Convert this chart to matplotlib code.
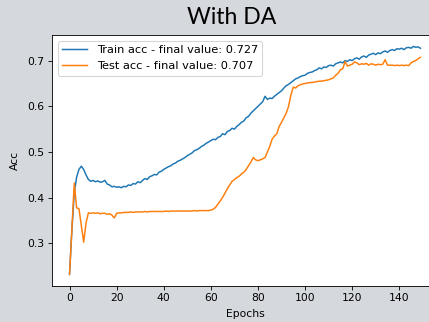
import matplotlib
matplotlib.use("Agg")
import matplotlib.pyplot as plt
import numpy as np

epochs = list(range(150))

train_acc = [
    0.234, 0.330, 0.410, 0.445, 0.462, 0.469, 0.462, 0.450, 0.440, 0.436,
    0.438, 0.435, 0.437, 0.434, 0.435, 0.438, 0.430, 0.428, 0.424, 0.425,
    0.423, 0.424, 0.422, 0.425, 0.424, 0.428, 0.427, 0.431, 0.430, 0.435,
    0.433, 0.438, 0.442, 0.440, 0.446, 0.448, 0.451, 0.450, 0.456, 0.458,
    0.462, 0.465, 0.468, 0.470, 0.474, 0.476, 0.480, 0.482, 0.485, 0.488,
    0.492, 0.495, 0.498, 0.503, 0.505, 0.508, 0.512, 0.515, 0.519, 0.522,
    0.525, 0.528, 0.527, 0.532, 0.534, 0.540, 0.538, 0.545, 0.547, 0.552,
    0.550, 0.556, 0.560, 0.565, 0.568, 0.575, 0.578, 0.585, 0.590, 0.595,
    0.600, 0.605, 0.610, 0.622, 0.615, 0.618, 0.617, 0.622, 0.626, 0.630,
    0.634, 0.640, 0.645, 0.648, 0.652, 0.656, 0.660, 0.662, 0.665, 0.667,
    0.668, 0.672, 0.674, 0.675, 0.678, 0.680, 0.684, 0.682, 0.686, 0.685,
    0.689, 0.690, 0.688, 0.693, 0.695, 0.697, 0.695, 0.700, 0.698, 0.702,
    0.700, 0.704, 0.706, 0.703, 0.708, 0.710, 0.707, 0.712, 0.714, 0.716,
    0.713, 0.717, 0.715, 0.719, 0.721, 0.718, 0.722, 0.724, 0.722, 0.726,
    0.725, 0.727, 0.724, 0.728, 0.729, 0.727, 0.731, 0.729, 0.730, 0.727,
]

test_acc = [
    0.232, 0.330, 0.432, 0.378, 0.376, 0.340, 0.303, 0.345, 0.367, 0.366,
    0.367, 0.366, 0.367, 0.365, 0.366, 0.366, 0.364, 0.365, 0.362, 0.356,
    0.366, 0.367, 0.367, 0.368, 0.368, 0.368, 0.369, 0.368, 0.369, 0.369,
    0.369, 0.369, 0.370, 0.369, 0.370, 0.370, 0.370, 0.370, 0.370, 0.370,
    0.370, 0.371, 0.370, 0.371, 0.371, 0.371, 0.371, 0.371, 0.371, 0.371,
    0.371, 0.371, 0.371, 0.372, 0.371, 0.372, 0.372, 0.372, 0.372, 0.372,
    0.373, 0.375, 0.379, 0.386, 0.393, 0.401, 0.410, 0.420, 0.428, 0.436,
    0.440, 0.444, 0.447, 0.452, 0.456, 0.462, 0.470, 0.478, 0.488, 0.483,
    0.481, 0.483, 0.485, 0.488, 0.500, 0.512, 0.528, 0.535, 0.540, 0.556,
    0.565, 0.575, 0.585, 0.600, 0.625, 0.642, 0.640, 0.645, 0.647, 0.649,
    0.650, 0.651, 0.652, 0.652, 0.653, 0.654, 0.655, 0.655, 0.656, 0.657,
    0.658, 0.660, 0.662, 0.668, 0.672, 0.680, 0.682, 0.698, 0.688, 0.690,
    0.692, 0.697, 0.695, 0.691, 0.693, 0.692, 0.694, 0.690, 0.693, 0.692,
    0.690, 0.692, 0.691, 0.692, 0.702, 0.690, 0.690, 0.690, 0.689, 0.690,
    0.689, 0.690, 0.689, 0.690, 0.689, 0.695, 0.698, 0.700, 0.704, 0.707,
]

DPI = 77
bg = "#d5d8dc"
fig = plt.figure(figsize=(429 / DPI, 322 / DPI), dpi=DPI, facecolor=bg)
ax = fig.add_axes([52 / 429, 36 / 322, (438 - 52) / 429, (286 - 35) / 322])
ax.set_facecolor("white")

ax.plot(epochs, train_acc, color="#1f77b4", lw=1.4,
        label=f"Train acc - final value: {train_acc[-1]:.3f}")
ax.plot(epochs, test_acc, color="#ff7f0e", lw=1.4,
        label=f"Test acc - final value: {test_acc[-1]:.3f}")

ax.set_xticks([0, 20, 40, 60, 80, 100, 120, 140])
ax.set_yticks([0.3, 0.4, 0.5, 0.6, 0.7])
ax.set_xlabel("Epochs", labelpad=5)
ax.set_ylabel("Acc", labelpad=7)
ax.legend(loc="upper left", handlelength=2.2, prop={"size": 10.7})

fig.text(232 / 429, 1 - 18 / 322, "With DA", ha="center", va="center",
         fontsize=23 * 72 / DPI, family="Lato")

fig.savefig("out.png", dpi=DPI, facecolor=bg)
